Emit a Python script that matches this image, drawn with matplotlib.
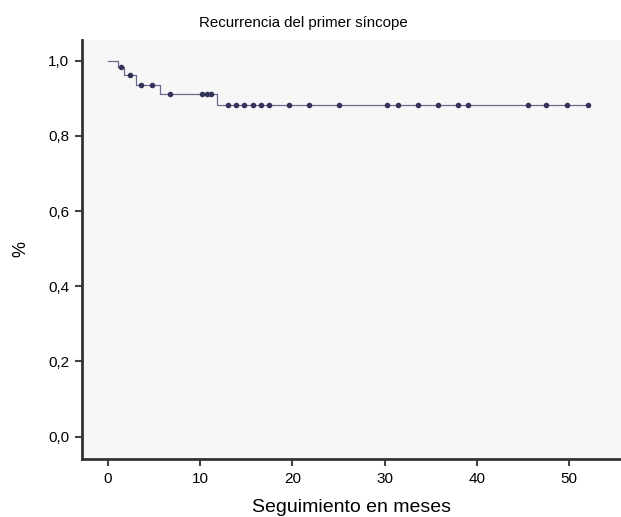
import numpy as np
import matplotlib
matplotlib.use("Agg")
import matplotlib.pyplot as plt

plt.rcParams['font.family'] = ['Liberation Sans', 'DejaVu Sans']

# Kaplan-Meier curve
step_times = [0, 1.1, 1.8, 3.1, 5.7, 11.8]
step_surv = [1.0, 0.984, 0.963, 0.936, 0.912, 0.883]
end_time = 52.0
censor_times = [1.4, 2.4, 3.6, 4.8, 6.7, 10.2, 10.7, 11.2,
                13.0, 13.9, 14.8, 15.7, 16.6, 17.5, 19.6, 21.8, 25.0,
                30.3, 31.4, 33.6, 35.8, 37.9, 39.0, 45.5, 47.5, 49.8, 52.0]
yticks = [0.0, 0.2, 0.4, 0.6, 0.8, 1.0]
xticks = [0, 10, 20, 30, 40, 50]

fig = plt.figure(figsize=(6.21, 5.17), dpi=100)
ax = fig.add_axes([0.132, 0.112, 0.868, 0.811])
ax.set_facecolor('#f7f7f7')

# step line
xs = step_times + [end_time]
ys = step_surv + [step_surv[-1]]
ax.step(xs, ys, where='post', color='#6a6a90', lw=0.9)

# censor marks
def surv_at(t):
    idx = np.searchsorted(step_times, t, side='right') - 1
    return step_surv[idx]

cy = [surv_at(t) for t in censor_times]
ax.plot(censor_times, cy, 'o', color='#34345a', ms=3.0, mec='#34345a')

ax.set_xlim(-2.8, 55.6)
ax.set_ylim(-0.06, 1.056)
ax.set_xticks(xticks)
ax.set_yticks(yticks)
ax.set_yticklabels([f"{v:.1f}".replace('.', ',') for v in yticks])
ax.tick_params(labelsize=11, length=5, width=1.5, color='#444444', pad=4)

for s in ['top', 'right']:
    ax.spines[s].set_visible(False)
for s in ['left', 'bottom']:
    ax.spines[s].set_color('#333333')
    ax.spines[s].set_linewidth(2)

ax.set_title("Recurrencia del primer síncope", fontsize=10.8, pad=9, x=0.41)
ax.set_xlabel("Seguimiento en meses", fontsize=14, labelpad=10)
ax.set_ylabel("%", fontsize=13, labelpad=14)

fig.savefig("out.png", dpi=100)
